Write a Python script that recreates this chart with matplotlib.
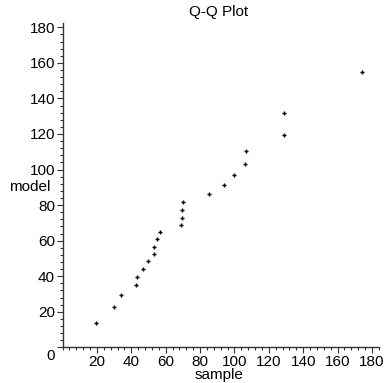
import matplotlib
matplotlib.use('Agg')
import matplotlib.pyplot as plt
import matplotlib.transforms as mtransforms
from matplotlib.ticker import MultipleLocator

plt.rcParams['font.family'] = ['Liberation Sans', 'DejaVu Sans']

# Q-Q points (sample quantile, model quantile)
sample = [19.2, 30.0, 34.1, 42.7, 43.3, 46.7, 49.7, 53.0, 53.0, 55.0, 56.8,
          68.8, 69.6, 69.6, 69.8, 85.1, 94.0, 99.6, 106.0, 106.6, 128.7,
          128.7, 174.0]
model = [13.5, 22.9, 29.4, 34.9, 39.7, 44.2, 48.5, 52.7, 56.6, 60.7, 64.8,
         68.8, 72.9, 77.2, 81.7, 86.4, 91.5, 97.1, 103.3, 110.4, 119.4,
         131.8, 154.8]
x_ticks = [20, 40, 60, 80, 100, 120, 140, 160, 180]
y_ticks = [0, 20, 40, 60, 80, 100, 120, 140, 160, 180]

fig = plt.figure(figsize=(3.85, 3.83), dpi=100)
ax = fig.add_axes([0.1626, 0.0932, 0.8214, 0.8475])

ax.plot(sample, model, linestyle='none', marker='+', markersize=3.5,
        markeredgewidth=1.0, color='black')

ax.set_xlim(0, 184)
ax.set_ylim(0, 182.6)
ax.set_xticks(x_ticks)
ax.set_yticks(y_ticks)
ax.xaxis.set_minor_locator(MultipleLocator(4))
ax.yaxis.set_minor_locator(MultipleLocator(4))

for side in ['top', 'right']:
    ax.spines[side].set_visible(False)
for side in ['left', 'bottom']:
    ax.spines[side].set_linewidth(1.0)
    ax.spines[side].set_color('#333333')

ax.tick_params(which='major', direction='out', length=4, width=0.8,
               labelsize=11, pad=1.5, color='#333333')
ax.tick_params(which='minor', direction='out', length=2.5, width=0.8,
               color='#333333')

# Maple puts the origin label a bit below the axis
zero_lbl = ax.get_yticklabels()[0]
zero_lbl.set_transform(zero_lbl.get_transform() +
                       mtransforms.ScaledTranslation(0, -7 / 100, fig.dpi_scale_trans))

fig.text(219 / 385, 1 - 12 / 383, 'Q-Q Plot', ha='center', va='center', fontsize=11)
fig.text(30 / 385, 1 - 187 / 383, 'model', ha='center', va='center', fontsize=11)
fig.text(219 / 385, 1 - 375 / 383, 'sample', ha='center', va='center', fontsize=11)

fig.savefig('out.png', dpi=100)
